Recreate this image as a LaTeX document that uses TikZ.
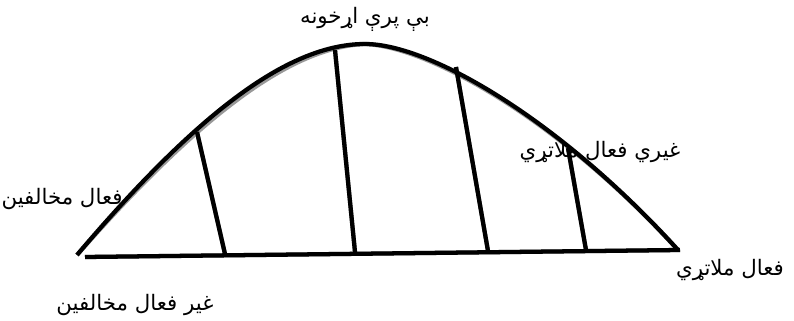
\documentclass[tikz,border=0pt]{standalone}
\usepackage{fontspec}
\newfontfamily\arabicfont[Script=Arabic]{DejaVu Sans}
\TeXXeTstate=1
\begin{document}
\begin{tikzpicture}[x=0.75pt,y=-0.75pt,
  thick line/.style={line width=3.2pt,black},
  shadow line/.style={line width=3.2pt,black!40},
  lbl/.style={font=\arabicfont\fontsize{16}{18}\selectfont,inner sep=0pt}]
\useasboundingbox (0,0) rectangle (794,321);
% points on the curve
\coordinate (c0) at (77,255);
\coordinate (c1) at (197,132);
\coordinate (c2) at (335,50);
\coordinate (c3) at (456,67);
\coordinate (c4) at (568,148);
\coordinate (c5) at (678,250);
\coordinate (peak) at (365,44);
% points on the base line
\coordinate (b0) at (85,257);
\coordinate (b1) at (225,254);
\coordinate (b2) at (355,252);
\coordinate (b3) at (488,251);
\coordinate (b4) at (586,250);
\coordinate (b5) at (680,250);
\def\curvepath{(c0) .. controls (200,110) and (290,44) .. (peak) .. controls (430,44) and (560,120) .. (c5)}
% shadows
\begin{scope}[shift={(2,3)}]
  \draw[shadow line] \curvepath;
  \draw[shadow line] (b0) -- (b5);
  \draw[shadow line] (c1) -- (b1);
  \draw[shadow line] (c2) -- (b2);
  \draw[shadow line] (c3) -- (b3);
  \draw[shadow line] (c4) -- (b4);
\end{scope}
% lines
\draw[thick line] \curvepath;
\draw[thick line] (b0) -- (b5);
\draw[thick line] (c1) -- (b1);
\draw[thick line] (c2) -- (b2);
\draw[thick line] (c3) -- (b3);
\draw[thick line] (c4) -- (b4);
% labels
\node[lbl] (top) at (365,19) {\beginR بې پرې اړخونه\endR};
\node[lbl] (left) at (62,199) {\beginR فعال مخالفین\endR};
\node[lbl] (midright) at (600,152) {\beginR غیري فعال ملاتړي\endR};
\node[lbl] (right) at (730,270) {\beginR فعال ملاتړي\endR};
\node[lbl] (bottom) at (135,305) {\beginR غیر فعال مخالفین\endR};
\end{tikzpicture}
\end{document}
